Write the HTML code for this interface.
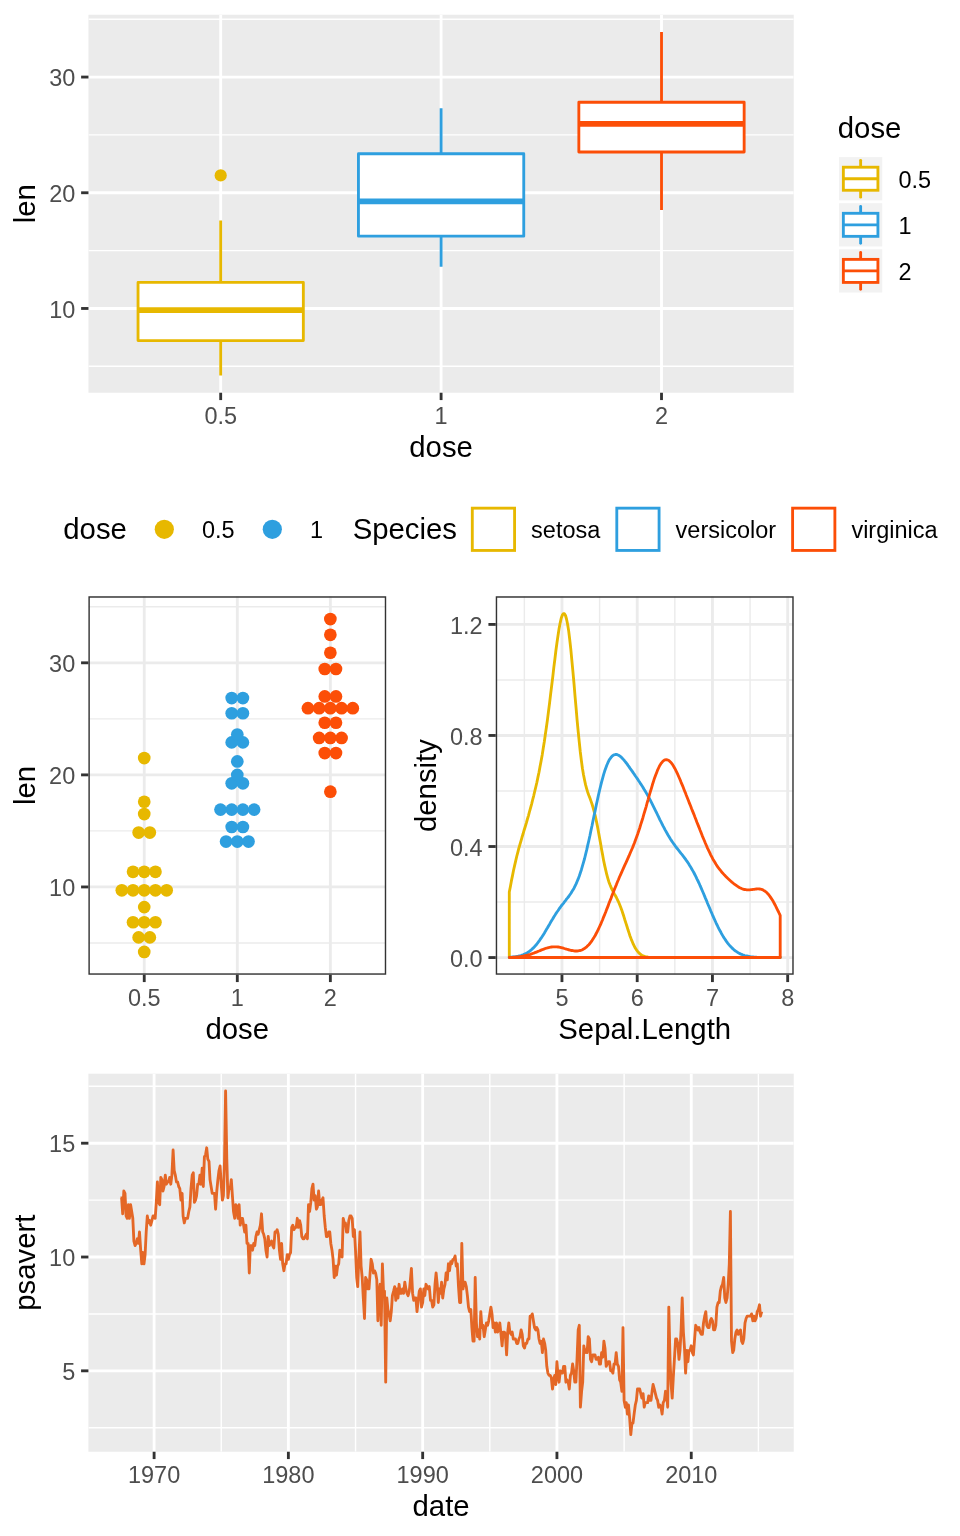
<!DOCTYPE html>
<html><head><meta charset="utf-8"><title>ggplot arrange</title>
<style>html,body{margin:0;padding:0;background:#fff}svg{display:block;will-change:transform}text{font-family:"Liberation Sans",sans-serif}</style>
</head><body>
<svg width="960" height="1536" viewBox="0 0 960 1536">
<rect width="960" height="1536" fill="#fff"/>
<clipPath id="c1"><rect x="88.45" y="14.75" width="705.30" height="378.00"/></clipPath>
<rect x="88.45" y="14.75" width="705.30" height="378.00" fill="#EBEBEB"/>
<g clip-path="url(#c1)">
<line x1="88.45" x2="793.75" y1="366.31" y2="366.31" stroke="#fff" stroke-width="1.42"/>
<line x1="88.45" x2="793.75" y1="250.61" y2="250.61" stroke="#fff" stroke-width="1.42"/>
<line x1="88.45" x2="793.75" y1="134.91" y2="134.91" stroke="#fff" stroke-width="1.42"/>
<line x1="88.45" x2="793.75" y1="19.20" y2="19.20" stroke="#fff" stroke-width="1.42"/>
<line x1="88.45" x2="793.75" y1="308.46" y2="308.46" stroke="#fff" stroke-width="2.845"/>
<line x1="88.45" x2="793.75" y1="192.76" y2="192.76" stroke="#fff" stroke-width="2.845"/>
<line x1="88.45" x2="793.75" y1="77.06" y2="77.06" stroke="#fff" stroke-width="2.845"/>
<line y1="14.75" y2="392.75" x1="220.69" x2="220.69" stroke="#fff" stroke-width="2.845"/>
<line y1="14.75" y2="392.75" x1="441.10" x2="441.10" stroke="#fff" stroke-width="2.845"/>
<line y1="14.75" y2="392.75" x1="661.51" x2="661.51" stroke="#fff" stroke-width="2.845"/>
</g>
<g clip-path="url(#c1)">
<circle cx="220.69" cy="175.40" r="6.1" fill="#E7B800"/>
<line x1="220.69" x2="220.69" y1="220.53" y2="282.43" stroke="#E7B800" stroke-width="2.845"/>
<line x1="220.69" x2="220.69" y1="340.57" y2="375.57" stroke="#E7B800" stroke-width="2.845"/>
<rect x="138.04" y="282.43" width="165.30" height="58.14" fill="#fff" stroke="#E7B800" stroke-width="2.845" stroke-linejoin="round"/>
<line x1="138.04" x2="303.35" y1="310.20" y2="310.20" stroke="#E7B800" stroke-width="5.69"/>
<line x1="441.10" x2="441.10" y1="108.30" y2="153.71" stroke="#2E9FDF" stroke-width="2.845"/>
<line x1="441.10" x2="441.10" y1="236.15" y2="266.81" stroke="#2E9FDF" stroke-width="2.845"/>
<rect x="358.45" y="153.71" width="165.30" height="82.44" fill="#fff" stroke="#2E9FDF" stroke-width="2.845" stroke-linejoin="round"/>
<line x1="358.45" x2="523.75" y1="201.44" y2="201.44" stroke="#2E9FDF" stroke-width="5.69"/>
<line x1="661.51" x2="661.51" y1="31.93" y2="102.22" stroke="#FC4E07" stroke-width="2.845"/>
<line x1="661.51" x2="661.51" y1="151.97" y2="210.11" stroke="#FC4E07" stroke-width="2.845"/>
<rect x="578.85" y="102.22" width="165.30" height="49.75" fill="#fff" stroke="#FC4E07" stroke-width="2.845" stroke-linejoin="round"/>
<line x1="578.85" x2="744.16" y1="123.92" y2="123.92" stroke="#FC4E07" stroke-width="5.69"/>
</g>
<line x1="220.69" x2="220.69" y1="392.75" y2="400.08" stroke="#333333" stroke-width="2.845"/>
<text x="220.69" y="423.65" font-size="23.47" fill="#4D4D4D" text-anchor="middle">0.5</text>
<line x1="441.10" x2="441.10" y1="392.75" y2="400.08" stroke="#333333" stroke-width="2.845"/>
<text x="441.10" y="423.65" font-size="23.47" fill="#4D4D4D" text-anchor="middle">1</text>
<line x1="661.51" x2="661.51" y1="392.75" y2="400.08" stroke="#333333" stroke-width="2.845"/>
<text x="661.51" y="423.65" font-size="23.47" fill="#4D4D4D" text-anchor="middle">2</text>
<line x1="81.12" x2="88.45" y1="308.46" y2="308.46" stroke="#333333" stroke-width="2.845"/>
<text x="75.25" y="317.56" font-size="23.47" fill="#4D4D4D" text-anchor="end">10</text>
<line x1="81.12" x2="88.45" y1="192.76" y2="192.76" stroke="#333333" stroke-width="2.845"/>
<text x="75.25" y="201.86" font-size="23.47" fill="#4D4D4D" text-anchor="end">20</text>
<line x1="81.12" x2="88.45" y1="77.06" y2="77.06" stroke="#333333" stroke-width="2.845"/>
<text x="75.25" y="86.16" font-size="23.47" fill="#4D4D4D" text-anchor="end">30</text>
<text x="441.10" y="456.60" font-size="29.33" fill="#000" text-anchor="middle">dose</text>
<text x="35.40" y="203.75" font-size="29.33" fill="#000" text-anchor="middle" transform="rotate(-90 35.40 203.75)">len</text>
<text x="837.80" y="137.60" font-size="29.33" fill="#000" text-anchor="start">dose</text>
<rect x="839.02" y="157.12" width="43.24" height="43.24" fill="#F2F2F2"/>
<line x1="860.64" x2="860.64" y1="160.31" y2="167.22" stroke="#E7B800" stroke-width="2.845" stroke-linecap="round"/>
<line x1="860.64" x2="860.64" y1="190.26" y2="197.17" stroke="#E7B800" stroke-width="2.845" stroke-linecap="round"/>
<rect x="843.36" y="167.22" width="34.56" height="23.04" fill="#fff" stroke="#E7B800" stroke-width="2.845"/>
<line x1="843.36" x2="877.92" y1="178.74" y2="178.74" stroke="#E7B800" stroke-width="2.845"/>
<text x="898.40" y="187.74" font-size="23.47" fill="#000" text-anchor="start">0.5</text>
<rect x="839.02" y="203.20" width="43.24" height="43.24" fill="#F2F2F2"/>
<line x1="860.64" x2="860.64" y1="206.39" y2="213.30" stroke="#2E9FDF" stroke-width="2.845" stroke-linecap="round"/>
<line x1="860.64" x2="860.64" y1="236.34" y2="243.25" stroke="#2E9FDF" stroke-width="2.845" stroke-linecap="round"/>
<rect x="843.36" y="213.30" width="34.56" height="23.04" fill="#fff" stroke="#2E9FDF" stroke-width="2.845"/>
<line x1="843.36" x2="877.92" y1="224.82" y2="224.82" stroke="#2E9FDF" stroke-width="2.845"/>
<text x="898.40" y="233.82" font-size="23.47" fill="#000" text-anchor="start">1</text>
<rect x="839.02" y="249.28" width="43.24" height="43.24" fill="#F2F2F2"/>
<line x1="860.64" x2="860.64" y1="252.47" y2="259.38" stroke="#FC4E07" stroke-width="2.845" stroke-linecap="round"/>
<line x1="860.64" x2="860.64" y1="282.42" y2="289.33" stroke="#FC4E07" stroke-width="2.845" stroke-linecap="round"/>
<rect x="843.36" y="259.38" width="34.56" height="23.04" fill="#fff" stroke="#FC4E07" stroke-width="2.845"/>
<line x1="843.36" x2="877.92" y1="270.90" y2="270.90" stroke="#FC4E07" stroke-width="2.845"/>
<text x="898.40" y="279.90" font-size="23.47" fill="#000" text-anchor="start">2</text>
<text x="63.30" y="539.30" font-size="29.33" fill="#000" text-anchor="start">dose</text>
<circle cx="164.3" cy="529.3" r="9.6" fill="#E7B800"/>
<text x="202.00" y="537.70" font-size="23.47" fill="#000" text-anchor="start">0.5</text>
<circle cx="272.3" cy="529.3" r="9.6" fill="#2E9FDF"/>
<text x="310.00" y="537.70" font-size="23.47" fill="#000" text-anchor="start">1</text>
<text x="352.70" y="539.30" font-size="29.33" fill="#000" text-anchor="start">Species</text>
<rect x="472.30" y="508.16" width="42.28" height="42.28" fill="#fff" stroke="#E7B800" stroke-width="2.845"/>
<text x="531.10" y="537.70" font-size="23.47" fill="#000" text-anchor="start">setosa</text>
<rect x="616.80" y="508.16" width="42.28" height="42.28" fill="#fff" stroke="#2E9FDF" stroke-width="2.845"/>
<text x="675.60" y="537.70" font-size="23.47" fill="#000" text-anchor="start">versicolor</text>
<rect x="792.60" y="508.16" width="42.28" height="42.28" fill="#fff" stroke="#FC4E07" stroke-width="2.845"/>
<text x="851.40" y="537.70" font-size="23.47" fill="#000" text-anchor="start">virginica</text>
<rect x="88.40" y="596.30" width="297.80" height="378.45" fill="#fff"/>
<clipPath id="c2"><rect x="88.40" y="596.30" width="297.80" height="378.45"/></clipPath>
<g clip-path="url(#c2)">
<line x1="88.40" x2="386.20" y1="942.98" y2="942.98" stroke="#EBEBEB" stroke-width="1.42"/>
<line x1="88.40" x2="386.20" y1="830.91" y2="830.91" stroke="#EBEBEB" stroke-width="1.42"/>
<line x1="88.40" x2="386.20" y1="718.85" y2="718.85" stroke="#EBEBEB" stroke-width="1.42"/>
<line x1="88.40" x2="386.20" y1="606.78" y2="606.78" stroke="#EBEBEB" stroke-width="1.42"/>
<line x1="88.40" x2="386.20" y1="886.95" y2="886.95" stroke="#EBEBEB" stroke-width="2.845"/>
<line x1="88.40" x2="386.20" y1="774.88" y2="774.88" stroke="#EBEBEB" stroke-width="2.845"/>
<line x1="88.40" x2="386.20" y1="662.81" y2="662.81" stroke="#EBEBEB" stroke-width="2.845"/>
<line y1="596.30" y2="974.75" x1="144.24" x2="144.24" stroke="#EBEBEB" stroke-width="2.845"/>
<line y1="596.30" y2="974.75" x1="237.30" x2="237.30" stroke="#EBEBEB" stroke-width="2.845"/>
<line y1="596.30" y2="974.75" x1="330.36" x2="330.36" stroke="#EBEBEB" stroke-width="2.845"/>
</g>
<g clip-path="url(#c2)">
<circle cx="144.24" cy="951.94" r="6.35" fill="#E7B800"/>
<circle cx="138.63" cy="937.38" r="6.35" fill="#E7B800"/>
<circle cx="149.84" cy="937.38" r="6.35" fill="#E7B800"/>
<circle cx="133.03" cy="922.25" r="6.35" fill="#E7B800"/>
<circle cx="144.24" cy="922.25" r="6.35" fill="#E7B800"/>
<circle cx="155.44" cy="922.25" r="6.35" fill="#E7B800"/>
<circle cx="144.24" cy="907.12" r="6.35" fill="#E7B800"/>
<circle cx="121.82" cy="890.31" r="6.35" fill="#E7B800"/>
<circle cx="133.03" cy="890.31" r="6.35" fill="#E7B800"/>
<circle cx="144.24" cy="890.31" r="6.35" fill="#E7B800"/>
<circle cx="155.44" cy="890.31" r="6.35" fill="#E7B800"/>
<circle cx="166.65" cy="890.31" r="6.35" fill="#E7B800"/>
<circle cx="133.03" cy="871.82" r="6.35" fill="#E7B800"/>
<circle cx="144.24" cy="871.82" r="6.35" fill="#E7B800"/>
<circle cx="155.44" cy="871.82" r="6.35" fill="#E7B800"/>
<circle cx="138.63" cy="832.59" r="6.35" fill="#E7B800"/>
<circle cx="149.84" cy="832.59" r="6.35" fill="#E7B800"/>
<circle cx="144.24" cy="814.10" r="6.35" fill="#E7B800"/>
<circle cx="144.24" cy="801.77" r="6.35" fill="#E7B800"/>
<circle cx="144.24" cy="758.07" r="6.35" fill="#E7B800"/>
<circle cx="226.09" cy="841.56" r="6.35" fill="#2E9FDF"/>
<circle cx="237.30" cy="841.56" r="6.35" fill="#2E9FDF"/>
<circle cx="248.51" cy="841.56" r="6.35" fill="#2E9FDF"/>
<circle cx="231.70" cy="826.99" r="6.35" fill="#2E9FDF"/>
<circle cx="242.90" cy="826.99" r="6.35" fill="#2E9FDF"/>
<circle cx="220.49" cy="809.62" r="6.35" fill="#2E9FDF"/>
<circle cx="231.70" cy="809.62" r="6.35" fill="#2E9FDF"/>
<circle cx="242.90" cy="809.62" r="6.35" fill="#2E9FDF"/>
<circle cx="254.11" cy="809.62" r="6.35" fill="#2E9FDF"/>
<circle cx="231.70" cy="783.28" r="6.35" fill="#2E9FDF"/>
<circle cx="242.90" cy="783.28" r="6.35" fill="#2E9FDF"/>
<circle cx="237.30" cy="774.88" r="6.35" fill="#2E9FDF"/>
<circle cx="237.30" cy="761.43" r="6.35" fill="#2E9FDF"/>
<circle cx="231.70" cy="742.38" r="6.35" fill="#2E9FDF"/>
<circle cx="242.90" cy="742.38" r="6.35" fill="#2E9FDF"/>
<circle cx="237.30" cy="734.53" r="6.35" fill="#2E9FDF"/>
<circle cx="231.70" cy="713.24" r="6.35" fill="#2E9FDF"/>
<circle cx="242.90" cy="713.24" r="6.35" fill="#2E9FDF"/>
<circle cx="231.70" cy="698.11" r="6.35" fill="#2E9FDF"/>
<circle cx="242.90" cy="698.11" r="6.35" fill="#2E9FDF"/>
<circle cx="330.36" cy="791.69" r="6.35" fill="#FC4E07"/>
<circle cx="324.76" cy="753.03" r="6.35" fill="#FC4E07"/>
<circle cx="335.97" cy="753.03" r="6.35" fill="#FC4E07"/>
<circle cx="319.16" cy="737.90" r="6.35" fill="#FC4E07"/>
<circle cx="330.36" cy="737.90" r="6.35" fill="#FC4E07"/>
<circle cx="341.57" cy="737.90" r="6.35" fill="#FC4E07"/>
<circle cx="324.76" cy="722.77" r="6.35" fill="#FC4E07"/>
<circle cx="335.97" cy="722.77" r="6.35" fill="#FC4E07"/>
<circle cx="307.95" cy="708.20" r="6.35" fill="#FC4E07"/>
<circle cx="319.16" cy="708.20" r="6.35" fill="#FC4E07"/>
<circle cx="330.36" cy="708.20" r="6.35" fill="#FC4E07"/>
<circle cx="341.57" cy="708.20" r="6.35" fill="#FC4E07"/>
<circle cx="352.78" cy="708.20" r="6.35" fill="#FC4E07"/>
<circle cx="324.76" cy="696.43" r="6.35" fill="#FC4E07"/>
<circle cx="335.97" cy="696.43" r="6.35" fill="#FC4E07"/>
<circle cx="324.76" cy="668.98" r="6.35" fill="#FC4E07"/>
<circle cx="335.97" cy="668.98" r="6.35" fill="#FC4E07"/>
<circle cx="330.36" cy="652.73" r="6.35" fill="#FC4E07"/>
<circle cx="330.36" cy="634.79" r="6.35" fill="#FC4E07"/>
<circle cx="330.36" cy="619.11" r="6.35" fill="#FC4E07"/>
</g>
<rect clip-path="url(#c2)" x="88.40" y="596.30" width="297.80" height="378.45" fill="none" stroke="#333333" stroke-width="2.845"/>
<line x1="144.24" x2="144.24" y1="974.75" y2="982.08" stroke="#333333" stroke-width="2.845"/>
<text x="144.24" y="1005.65" font-size="23.47" fill="#4D4D4D" text-anchor="middle">0.5</text>
<line x1="237.30" x2="237.30" y1="974.75" y2="982.08" stroke="#333333" stroke-width="2.845"/>
<text x="237.30" y="1005.65" font-size="23.47" fill="#4D4D4D" text-anchor="middle">1</text>
<line x1="330.36" x2="330.36" y1="974.75" y2="982.08" stroke="#333333" stroke-width="2.845"/>
<text x="330.36" y="1005.65" font-size="23.47" fill="#4D4D4D" text-anchor="middle">2</text>
<line x1="81.07" x2="88.40" y1="886.95" y2="886.95" stroke="#333333" stroke-width="2.845"/>
<text x="75.20" y="896.05" font-size="23.47" fill="#4D4D4D" text-anchor="end">10</text>
<line x1="81.07" x2="88.40" y1="774.88" y2="774.88" stroke="#333333" stroke-width="2.845"/>
<text x="75.20" y="783.98" font-size="23.47" fill="#4D4D4D" text-anchor="end">20</text>
<line x1="81.07" x2="88.40" y1="662.81" y2="662.81" stroke="#333333" stroke-width="2.845"/>
<text x="75.20" y="671.91" font-size="23.47" fill="#4D4D4D" text-anchor="end">30</text>
<text x="237.30" y="1038.60" font-size="29.33" fill="#000" text-anchor="middle">dose</text>
<text x="35.40" y="785.52" font-size="29.33" fill="#000" text-anchor="middle" transform="rotate(-90 35.40 785.52)">len</text>
<rect x="495.75" y="596.30" width="297.95" height="378.45" fill="#fff"/>
<clipPath id="c3"><rect x="495.75" y="596.30" width="297.95" height="378.45"/></clipPath>
<g clip-path="url(#c3)">
<line x1="495.75" x2="793.70" y1="902.03" y2="902.03" stroke="#EBEBEB" stroke-width="1.42"/>
<line x1="495.75" x2="793.70" y1="790.98" y2="790.98" stroke="#EBEBEB" stroke-width="1.42"/>
<line x1="495.75" x2="793.70" y1="679.94" y2="679.94" stroke="#EBEBEB" stroke-width="1.42"/>
<line y1="596.30" y2="974.75" x1="524.34" x2="524.34" stroke="#EBEBEB" stroke-width="1.42"/>
<line y1="596.30" y2="974.75" x1="599.58" x2="599.58" stroke="#EBEBEB" stroke-width="1.42"/>
<line y1="596.30" y2="974.75" x1="674.82" x2="674.82" stroke="#EBEBEB" stroke-width="1.42"/>
<line y1="596.30" y2="974.75" x1="750.06" x2="750.06" stroke="#EBEBEB" stroke-width="1.42"/>
<line x1="495.75" x2="793.70" y1="957.55" y2="957.55" stroke="#EBEBEB" stroke-width="2.845"/>
<line x1="495.75" x2="793.70" y1="846.51" y2="846.51" stroke="#EBEBEB" stroke-width="2.845"/>
<line x1="495.75" x2="793.70" y1="735.46" y2="735.46" stroke="#EBEBEB" stroke-width="2.845"/>
<line x1="495.75" x2="793.70" y1="624.42" y2="624.42" stroke="#EBEBEB" stroke-width="2.845"/>
<line y1="596.30" y2="974.75" x1="561.96" x2="561.96" stroke="#EBEBEB" stroke-width="2.845"/>
<line y1="596.30" y2="974.75" x1="637.20" x2="637.20" stroke="#EBEBEB" stroke-width="2.845"/>
<line y1="596.30" y2="974.75" x1="712.44" x2="712.44" stroke="#EBEBEB" stroke-width="2.845"/>
<line y1="596.30" y2="974.75" x1="787.68" x2="787.68" stroke="#EBEBEB" stroke-width="2.845"/>
</g>
<g clip-path="url(#c3)">
<path d="M509.3 957.5 L509.3 892.0 L510.4 886.4 L511.4 880.9 L512.5 875.6 L513.5 870.5 L514.6 865.6 L515.7 860.9 L516.7 856.5 L517.8 852.3 L518.8 848.4 L519.9 844.6 L521.0 840.9 L522.0 837.3 L523.1 833.8 L524.1 830.2 L525.2 826.7 L526.3 823.1 L527.3 819.5 L528.4 815.8 L529.4 812.0 L530.5 808.1 L531.6 804.1 L532.6 800.0 L533.7 795.8 L534.7 791.5 L535.8 787.0 L536.9 782.3 L537.9 777.4 L539.0 772.2 L540.0 766.8 L541.1 761.0 L542.2 754.9 L543.2 748.5 L544.3 741.8 L545.3 734.7 L546.4 727.2 L547.5 719.4 L548.5 711.3 L549.6 702.9 L550.6 694.3 L551.7 685.5 L552.8 676.6 L553.8 667.7 L554.9 659.0 L555.9 650.5 L557.0 642.5 L558.1 635.0 L559.1 628.4 L560.2 622.8 L561.2 618.3 L562.3 615.2 L563.4 613.7 L564.4 613.7 L565.5 615.5 L566.5 619.0 L567.6 624.2 L568.7 631.1 L569.7 639.4 L570.8 649.1 L571.8 659.8 L572.9 671.4 L574.0 683.5 L575.0 695.9 L576.1 708.2 L577.1 720.2 L578.2 731.6 L579.3 742.3 L580.3 752.0 L581.4 760.7 L582.4 768.3 L583.5 774.8 L584.6 780.3 L585.6 784.9 L586.7 788.8 L587.7 792.2 L588.8 795.2 L589.9 798.0 L590.9 800.9 L592.0 804.0 L593.0 807.4 L594.1 811.3 L595.2 815.6 L596.2 820.3 L597.3 825.6 L598.3 831.1 L599.4 837.0 L600.5 843.0 L601.5 848.9 L602.6 854.8 L603.6 860.4 L604.7 865.6 L605.8 870.4 L606.8 874.7 L607.9 878.6 L608.9 881.9 L610.0 884.8 L611.1 887.4 L612.1 889.6 L613.2 891.7 L614.2 893.6 L615.3 895.5 L616.4 897.5 L617.4 899.6 L618.5 901.8 L619.5 904.3 L620.6 907.0 L621.7 909.9 L622.7 913.0 L623.8 916.3 L624.8 919.7 L625.9 923.1 L627.0 926.5 L628.0 929.8 L629.1 933.1 L630.1 936.2 L631.2 939.1 L632.3 941.7 L633.3 944.2 L634.4 946.3 L635.4 948.3 L636.5 949.9 L637.6 951.4 L638.6 952.6 L639.7 953.6 L640.7 954.5 L641.8 955.2 L642.9 955.7 L643.9 956.2 L645.0 956.5 L646.1 956.8 L647.1 957.0 L648.2 957.2 L649.2 957.3 L650.3 957.4 L651.4 957.4 L652.4 957.5 L653.5 957.5 L654.5 957.5 L655.6 957.5 L656.7 957.5 L657.7 957.5 L658.8 957.5 L659.8 957.5 L660.9 957.5 L662.0 957.5 L663.0 957.5 L664.1 957.5 L665.1 957.5 L666.2 957.5 L667.3 957.5 L668.3 957.5 L669.4 957.5 L670.4 957.5 L671.5 957.5 L672.6 957.5 L673.6 957.5 L674.7 957.5 L675.7 957.5 L676.8 957.5 L677.9 957.5 L678.9 957.5 L680.0 957.5 L681.0 957.5 L682.1 957.5 L683.2 957.5 L684.2 957.5 L685.3 957.5 L686.3 957.5 L687.4 957.5 L688.5 957.5 L689.5 957.5 L690.6 957.5 L691.6 957.5 L692.7 957.5 L693.8 957.5 L694.8 957.5 L695.9 957.5 L696.9 957.5 L698.0 957.5 L699.1 957.5 L700.1 957.5 L701.2 957.5 L702.2 957.5 L703.3 957.5 L704.4 957.5 L705.4 957.5 L706.5 957.5 L707.5 957.5 L708.6 957.5 L709.7 957.5 L710.7 957.5 L711.8 957.5 L712.8 957.5 L713.9 957.5 L715.0 957.5 L716.0 957.5 L717.1 957.5 L718.1 957.5 L719.2 957.5 L720.3 957.5 L721.3 957.5 L722.4 957.5 L723.4 957.5 L724.5 957.5 L725.6 957.5 L726.6 957.5 L727.7 957.5 L728.7 957.5 L729.8 957.5 L730.9 957.5 L731.9 957.5 L733.0 957.5 L734.0 957.5 L735.1 957.5 L736.2 957.5 L737.2 957.5 L738.3 957.5 L739.3 957.5 L740.4 957.5 L741.5 957.5 L742.5 957.5 L743.6 957.5 L744.6 957.5 L745.7 957.5 L746.8 957.5 L747.8 957.5 L748.9 957.5 L749.9 957.5 L751.0 957.5 L752.1 957.5 L753.1 957.5 L754.2 957.5 L755.2 957.5 L756.3 957.5 L757.4 957.5 L758.4 957.5 L759.5 957.5 L760.5 957.5 L761.6 957.5 L762.7 957.5 L763.7 957.5 L764.8 957.5 L765.8 957.5 L766.9 957.5 L768.0 957.5 L769.0 957.5 L770.1 957.5 L771.1 957.5 L772.2 957.5 L773.3 957.5 L774.3 957.5 L775.4 957.5 L776.4 957.5 L777.5 957.5 L778.6 957.5 L779.6 957.5 L780.2 957.5 L780.2 957.5 Z" fill="none" stroke="#E7B800" stroke-width="2.845" stroke-linejoin="round"/>
<path d="M509.3 957.5 L509.3 957.3 L510.4 957.2 L511.4 957.1 L512.5 957.0 L513.5 956.9 L514.6 956.8 L515.7 956.6 L516.7 956.5 L517.8 956.3 L518.8 956.0 L519.9 955.8 L521.0 955.5 L522.0 955.1 L523.1 954.8 L524.1 954.3 L525.2 953.8 L526.3 953.3 L527.3 952.7 L528.4 952.0 L529.4 951.3 L530.5 950.5 L531.6 949.6 L532.6 948.6 L533.7 947.6 L534.7 946.5 L535.8 945.3 L536.9 944.0 L537.9 942.6 L539.0 941.2 L540.0 939.7 L541.1 938.2 L542.2 936.5 L543.2 934.9 L544.3 933.2 L545.3 931.4 L546.4 929.6 L547.5 927.8 L548.5 926.0 L549.6 924.2 L550.6 922.3 L551.7 920.5 L552.8 918.8 L553.8 917.0 L554.9 915.3 L555.9 913.6 L557.0 912.0 L558.1 910.5 L559.1 908.9 L560.2 907.5 L561.2 906.0 L562.3 904.6 L563.4 903.3 L564.4 901.9 L565.5 900.6 L566.5 899.2 L567.6 897.9 L568.7 896.5 L569.7 895.0 L570.8 893.5 L571.8 891.8 L572.9 890.1 L574.0 888.2 L575.0 886.1 L576.1 883.9 L577.1 881.5 L578.2 878.9 L579.3 876.0 L580.3 873.0 L581.4 869.7 L582.4 866.2 L583.5 862.4 L584.6 858.5 L585.6 854.3 L586.7 849.9 L587.7 845.4 L588.8 840.7 L589.9 835.8 L590.9 830.8 L592.0 825.8 L593.0 820.7 L594.1 815.6 L595.2 810.5 L596.2 805.4 L597.3 800.5 L598.3 795.7 L599.4 791.0 L600.5 786.5 L601.5 782.3 L602.6 778.3 L603.6 774.6 L604.7 771.1 L605.8 768.0 L606.8 765.2 L607.9 762.7 L608.9 760.6 L610.0 758.8 L611.1 757.3 L612.1 756.2 L613.2 755.3 L614.2 754.8 L615.3 754.5 L616.4 754.5 L617.4 754.7 L618.5 755.2 L619.5 755.8 L620.6 756.6 L621.7 757.6 L622.7 758.7 L623.8 759.9 L624.8 761.2 L625.9 762.5 L627.0 763.9 L628.0 765.4 L629.1 766.9 L630.1 768.4 L631.2 769.9 L632.3 771.4 L633.3 772.9 L634.4 774.4 L635.4 776.0 L636.5 777.5 L637.6 779.1 L638.6 780.7 L639.7 782.3 L640.7 783.9 L641.8 785.5 L642.9 787.2 L643.9 789.0 L645.0 790.7 L646.1 792.6 L647.1 794.4 L648.2 796.3 L649.2 798.3 L650.3 800.3 L651.4 802.4 L652.4 804.4 L653.5 806.6 L654.5 808.7 L655.6 810.9 L656.7 813.0 L657.7 815.2 L658.8 817.4 L659.8 819.6 L660.9 821.7 L662.0 823.8 L663.0 825.9 L664.1 827.9 L665.1 829.9 L666.2 831.8 L667.3 833.7 L668.3 835.5 L669.4 837.3 L670.4 839.0 L671.5 840.6 L672.6 842.2 L673.6 843.7 L674.7 845.2 L675.7 846.6 L676.8 848.0 L677.9 849.4 L678.9 850.7 L680.0 852.1 L681.0 853.4 L682.1 854.7 L683.2 856.1 L684.2 857.5 L685.3 858.9 L686.3 860.4 L687.4 861.9 L688.5 863.5 L689.5 865.2 L690.6 866.9 L691.6 868.7 L692.7 870.6 L693.8 872.5 L694.8 874.5 L695.9 876.6 L696.9 878.8 L698.0 881.0 L699.1 883.3 L700.1 885.7 L701.2 888.1 L702.2 890.5 L703.3 893.0 L704.4 895.6 L705.4 898.1 L706.5 900.6 L707.5 903.2 L708.6 905.7 L709.7 908.3 L710.7 910.8 L711.8 913.3 L712.8 915.7 L713.9 918.1 L715.0 920.5 L716.0 922.8 L717.1 925.0 L718.1 927.2 L719.2 929.3 L720.3 931.3 L721.3 933.2 L722.4 935.1 L723.4 936.9 L724.5 938.5 L725.6 940.1 L726.6 941.6 L727.7 943.1 L728.7 944.4 L729.8 945.7 L730.9 946.8 L731.9 947.9 L733.0 948.9 L734.0 949.8 L735.1 950.7 L736.2 951.4 L737.2 952.1 L738.3 952.8 L739.3 953.4 L740.4 953.9 L741.5 954.3 L742.5 954.8 L743.6 955.1 L744.6 955.5 L745.7 955.8 L746.8 956.0 L747.8 956.2 L748.9 956.4 L749.9 956.6 L751.0 956.8 L752.1 956.9 L753.1 957.0 L754.2 957.1 L755.2 957.2 L756.3 957.2 L757.4 957.3 L758.4 957.3 L759.5 957.4 L760.5 957.4 L761.6 957.4 L762.7 957.5 L763.7 957.5 L764.8 957.5 L765.8 957.5 L766.9 957.5 L768.0 957.5 L769.0 957.5 L770.1 957.5 L771.1 957.5 L772.2 957.5 L773.3 957.5 L774.3 957.5 L775.4 957.5 L776.4 957.5 L777.5 957.5 L778.6 957.5 L779.6 957.5 L780.2 957.5 L780.2 957.5 Z" fill="none" stroke="#2E9FDF" stroke-width="2.845" stroke-linejoin="round"/>
<path d="M509.3 957.5 L509.3 957.4 L510.4 957.4 L511.4 957.3 L512.5 957.3 L513.5 957.2 L514.6 957.1 L515.7 957.1 L516.7 957.0 L517.8 956.9 L518.8 956.8 L519.9 956.6 L521.0 956.5 L522.0 956.3 L523.1 956.1 L524.1 955.9 L525.2 955.7 L526.3 955.5 L527.3 955.2 L528.4 954.9 L529.4 954.6 L530.5 954.3 L531.6 953.9 L532.6 953.5 L533.7 953.1 L534.7 952.7 L535.8 952.3 L536.9 951.9 L537.9 951.4 L539.0 951.0 L540.0 950.6 L541.1 950.1 L542.2 949.7 L543.2 949.3 L544.3 948.9 L545.3 948.5 L546.4 948.2 L547.5 947.9 L548.5 947.6 L549.6 947.4 L550.6 947.2 L551.7 947.0 L552.8 946.9 L553.8 946.8 L554.9 946.8 L555.9 946.9 L557.0 946.9 L558.1 947.0 L559.1 947.2 L560.2 947.4 L561.2 947.6 L562.3 947.9 L563.4 948.2 L564.4 948.5 L565.5 948.8 L566.5 949.1 L567.6 949.4 L568.7 949.8 L569.7 950.0 L570.8 950.3 L571.8 950.5 L572.9 950.7 L574.0 950.9 L575.0 951.0 L576.1 951.0 L577.1 951.0 L578.2 950.9 L579.3 950.7 L580.3 950.5 L581.4 950.1 L582.4 949.7 L583.5 949.1 L584.6 948.5 L585.6 947.7 L586.7 946.8 L587.7 945.8 L588.8 944.7 L589.9 943.5 L590.9 942.1 L592.0 940.6 L593.0 939.0 L594.1 937.3 L595.2 935.5 L596.2 933.5 L597.3 931.5 L598.3 929.3 L599.4 927.0 L600.5 924.7 L601.5 922.2 L602.6 919.7 L603.6 917.1 L604.7 914.5 L605.8 911.8 L606.8 909.1 L607.9 906.4 L608.9 903.6 L610.0 900.8 L611.1 898.1 L612.1 895.3 L613.2 892.6 L614.2 889.9 L615.3 887.2 L616.4 884.6 L617.4 882.0 L618.5 879.5 L619.5 877.0 L620.6 874.6 L621.7 872.2 L622.7 869.8 L623.8 867.4 L624.8 865.1 L625.9 862.8 L627.0 860.4 L628.0 858.1 L629.1 855.7 L630.1 853.3 L631.2 850.8 L632.3 848.3 L633.3 845.7 L634.4 843.0 L635.4 840.2 L636.5 837.3 L637.6 834.3 L638.6 831.2 L639.7 828.0 L640.7 824.7 L641.8 821.2 L642.9 817.7 L643.9 814.1 L645.0 810.5 L646.1 806.8 L647.1 803.0 L648.2 799.3 L649.2 795.6 L650.3 791.9 L651.4 788.3 L652.4 784.8 L653.5 781.4 L654.5 778.2 L655.6 775.2 L656.7 772.4 L657.7 769.8 L658.8 767.5 L659.8 765.4 L660.9 763.7 L662.0 762.3 L663.0 761.1 L664.1 760.3 L665.1 759.8 L666.2 759.6 L667.3 759.8 L668.3 760.2 L669.4 760.9 L670.4 761.9 L671.5 763.2 L672.6 764.6 L673.6 766.3 L674.7 768.2 L675.7 770.2 L676.8 772.4 L677.9 774.7 L678.9 777.0 L680.0 779.5 L681.0 782.1 L682.1 784.6 L683.2 787.3 L684.2 789.9 L685.3 792.6 L686.3 795.3 L687.4 798.0 L688.5 800.7 L689.5 803.4 L690.6 806.0 L691.6 808.7 L692.7 811.4 L693.8 814.1 L694.8 816.8 L695.9 819.5 L696.9 822.2 L698.0 824.9 L699.1 827.6 L700.1 830.3 L701.2 832.9 L702.2 835.6 L703.3 838.2 L704.4 840.7 L705.4 843.2 L706.5 845.7 L707.5 848.1 L708.6 850.4 L709.7 852.6 L710.7 854.8 L711.8 856.9 L712.8 858.9 L713.9 860.7 L715.0 862.5 L716.0 864.2 L717.1 865.9 L718.1 867.4 L719.2 868.8 L720.3 870.2 L721.3 871.5 L722.4 872.8 L723.4 873.9 L724.5 875.1 L725.6 876.2 L726.6 877.2 L727.7 878.3 L728.7 879.2 L729.8 880.2 L730.9 881.2 L731.9 882.1 L733.0 883.0 L734.0 883.8 L735.1 884.6 L736.2 885.4 L737.2 886.1 L738.3 886.8 L739.3 887.5 L740.4 888.0 L741.5 888.5 L742.5 888.9 L743.6 889.3 L744.6 889.5 L745.7 889.7 L746.8 889.9 L747.8 889.9 L748.9 889.9 L749.9 889.8 L751.0 889.7 L752.1 889.6 L753.1 889.4 L754.2 889.3 L755.2 889.1 L756.3 889.0 L757.4 888.9 L758.4 888.9 L759.5 889.0 L760.5 889.2 L761.6 889.4 L762.7 889.8 L763.7 890.4 L764.8 891.0 L765.8 891.8 L766.9 892.8 L768.0 893.9 L769.0 895.2 L770.1 896.6 L771.1 898.1 L772.2 899.8 L773.3 901.6 L774.3 903.5 L775.4 905.5 L776.4 907.6 L777.5 909.8 L778.6 912.0 L779.6 914.3 L780.2 915.4 L780.2 957.5 Z" fill="none" stroke="#FC4E07" stroke-width="2.845" stroke-linejoin="round"/>
</g>
<rect clip-path="url(#c3)" x="495.75" y="596.30" width="297.95" height="378.45" fill="none" stroke="#333333" stroke-width="2.845"/>
<line x1="561.96" x2="561.96" y1="974.75" y2="982.08" stroke="#333333" stroke-width="2.845"/>
<text x="561.96" y="1005.65" font-size="23.47" fill="#4D4D4D" text-anchor="middle">5</text>
<line x1="637.20" x2="637.20" y1="974.75" y2="982.08" stroke="#333333" stroke-width="2.845"/>
<text x="637.20" y="1005.65" font-size="23.47" fill="#4D4D4D" text-anchor="middle">6</text>
<line x1="712.44" x2="712.44" y1="974.75" y2="982.08" stroke="#333333" stroke-width="2.845"/>
<text x="712.44" y="1005.65" font-size="23.47" fill="#4D4D4D" text-anchor="middle">7</text>
<line x1="787.68" x2="787.68" y1="974.75" y2="982.08" stroke="#333333" stroke-width="2.845"/>
<text x="787.68" y="1005.65" font-size="23.47" fill="#4D4D4D" text-anchor="middle">8</text>
<line x1="488.42" x2="495.75" y1="957.55" y2="957.55" stroke="#333333" stroke-width="2.845"/>
<text x="482.55" y="966.65" font-size="23.47" fill="#4D4D4D" text-anchor="end">0.0</text>
<line x1="488.42" x2="495.75" y1="846.51" y2="846.51" stroke="#333333" stroke-width="2.845"/>
<text x="482.55" y="855.61" font-size="23.47" fill="#4D4D4D" text-anchor="end">0.4</text>
<line x1="488.42" x2="495.75" y1="735.46" y2="735.46" stroke="#333333" stroke-width="2.845"/>
<text x="482.55" y="744.56" font-size="23.47" fill="#4D4D4D" text-anchor="end">0.8</text>
<line x1="488.42" x2="495.75" y1="624.42" y2="624.42" stroke="#333333" stroke-width="2.845"/>
<text x="482.55" y="633.52" font-size="23.47" fill="#4D4D4D" text-anchor="end">1.2</text>
<text x="644.73" y="1038.60" font-size="29.33" fill="#000" text-anchor="middle">Sepal.Length</text>
<text x="436.20" y="785.52" font-size="29.33" fill="#000" text-anchor="middle" transform="rotate(-90 436.20 785.52)">density</text>
<clipPath id="c4"><rect x="88.40" y="1073.67" width="705.35" height="378.08"/></clipPath>
<rect x="88.40" y="1073.67" width="705.35" height="378.08" fill="#EBEBEB"/>
<g clip-path="url(#c4)">
<line x1="88.40" x2="793.75" y1="1427.74" y2="1427.74" stroke="#fff" stroke-width="1.42"/>
<line x1="88.40" x2="793.75" y1="1313.92" y2="1313.92" stroke="#fff" stroke-width="1.42"/>
<line x1="88.40" x2="793.75" y1="1200.11" y2="1200.11" stroke="#fff" stroke-width="1.42"/>
<line x1="88.40" x2="793.75" y1="1086.30" y2="1086.30" stroke="#fff" stroke-width="1.42"/>
<line y1="1073.67" y2="1451.75" x1="221.24" x2="221.24" stroke="#fff" stroke-width="1.42"/>
<line y1="1073.67" y2="1451.75" x1="355.54" x2="355.54" stroke="#fff" stroke-width="1.42"/>
<line y1="1073.67" y2="1451.75" x1="489.81" x2="489.81" stroke="#fff" stroke-width="1.42"/>
<line y1="1073.67" y2="1451.75" x1="624.11" x2="624.11" stroke="#fff" stroke-width="1.42"/>
<line y1="1073.67" y2="1451.75" x1="758.38" x2="758.38" stroke="#fff" stroke-width="1.42"/>
<line x1="88.40" x2="793.75" y1="1370.83" y2="1370.83" stroke="#fff" stroke-width="2.845"/>
<line x1="88.40" x2="793.75" y1="1257.02" y2="1257.02" stroke="#fff" stroke-width="2.845"/>
<line x1="88.40" x2="793.75" y1="1143.21" y2="1143.21" stroke="#fff" stroke-width="2.845"/>
<line y1="1073.67" y2="1451.75" x1="154.10" x2="154.10" stroke="#fff" stroke-width="2.845"/>
<line y1="1073.67" y2="1451.75" x1="288.37" x2="288.37" stroke="#fff" stroke-width="2.845"/>
<line y1="1073.67" y2="1451.75" x1="422.67" x2="422.67" stroke="#fff" stroke-width="2.845"/>
<line y1="1073.67" y2="1451.75" x1="556.94" x2="556.94" stroke="#fff" stroke-width="2.845"/>
<line y1="1073.67" y2="1451.75" x1="691.25" x2="691.25" stroke="#fff" stroke-width="2.845"/>
</g>
<path clip-path="url(#c4)" d="M120.5 1197.8 L121.6 1197.8 L122.7 1213.8 L123.8 1191.0 L125.0 1193.3 L126.1 1216.0 L127.2 1218.3 L128.4 1204.7 L129.4 1218.3 L130.6 1204.7 L131.7 1211.5 L132.8 1218.3 L133.9 1241.1 L135.1 1245.6 L136.2 1243.4 L137.3 1238.8 L138.4 1243.4 L139.5 1232.0 L140.7 1250.2 L141.8 1263.8 L142.9 1252.5 L144.0 1263.8 L145.1 1254.7 L146.2 1232.0 L147.3 1216.0 L148.5 1222.9 L149.6 1220.6 L150.7 1225.2 L151.9 1220.6 L153.0 1216.0 L154.1 1216.0 L155.2 1218.3 L156.3 1202.4 L157.4 1181.9 L158.5 1202.4 L159.7 1204.7 L160.8 1177.4 L161.9 1179.6 L163.0 1191.0 L164.1 1186.5 L165.3 1175.1 L166.4 1184.2 L167.5 1181.9 L168.7 1181.9 L169.7 1177.4 L170.8 1184.2 L171.9 1175.1 L173.1 1150.0 L174.2 1170.5 L175.3 1175.1 L176.5 1181.9 L177.6 1181.9 L178.7 1186.5 L179.8 1188.7 L180.9 1200.1 L182.1 1193.3 L183.1 1216.0 L184.3 1222.9 L185.4 1218.3 L186.5 1218.3 L187.6 1218.3 L188.8 1211.5 L189.9 1206.9 L191.0 1188.7 L192.2 1175.1 L193.3 1172.8 L194.4 1202.4 L195.5 1200.1 L196.6 1195.6 L197.7 1184.2 L198.8 1184.2 L199.9 1175.1 L201.1 1184.2 L202.2 1168.2 L203.3 1186.5 L204.4 1156.9 L205.6 1154.6 L206.7 1147.8 L207.8 1159.1 L209.0 1161.4 L210.0 1179.6 L211.1 1186.5 L212.2 1193.3 L213.4 1193.3 L214.5 1193.3 L215.6 1209.2 L216.8 1191.0 L217.9 1179.6 L219.0 1170.5 L220.1 1166.0 L221.2 1184.2 L222.4 1200.1 L223.4 1195.6 L224.5 1161.4 L225.6 1090.9 L226.8 1159.1 L227.9 1197.8 L229.0 1188.7 L230.2 1188.7 L231.3 1179.6 L232.4 1195.6 L233.5 1211.5 L234.7 1218.3 L235.8 1204.7 L236.9 1206.9 L238.0 1218.3 L239.1 1204.7 L240.2 1225.2 L241.3 1218.3 L242.5 1218.3 L243.6 1225.2 L244.7 1232.0 L245.9 1225.2 L247.0 1243.4 L248.1 1243.4 L249.3 1273.0 L250.3 1245.6 L251.4 1245.6 L252.5 1250.2 L253.7 1243.4 L254.8 1245.6 L255.9 1236.5 L257.0 1232.0 L258.1 1234.3 L259.3 1229.7 L260.4 1225.2 L261.5 1213.8 L262.7 1232.0 L263.7 1234.3 L264.8 1238.8 L265.9 1250.2 L267.1 1257.0 L268.2 1236.5 L269.3 1245.6 L270.5 1243.4 L271.6 1241.1 L272.7 1245.6 L273.8 1247.9 L275.0 1232.0 L276.1 1232.0 L277.1 1229.7 L278.3 1234.3 L279.4 1250.2 L280.5 1259.3 L281.6 1243.4 L282.7 1263.8 L283.9 1270.7 L285.0 1263.8 L286.1 1263.8 L287.2 1254.7 L288.4 1259.3 L289.5 1254.7 L290.6 1252.5 L291.7 1227.4 L292.8 1225.2 L294.0 1229.7 L295.1 1227.4 L296.2 1227.4 L297.3 1218.3 L298.4 1227.4 L299.6 1220.6 L300.7 1225.2 L301.8 1236.5 L303.0 1238.8 L304.0 1238.8 L305.1 1236.5 L306.2 1234.3 L307.4 1238.8 L308.5 1204.7 L309.6 1211.5 L310.8 1202.4 L311.9 1188.7 L313.0 1184.2 L314.1 1200.1 L315.2 1195.6 L316.4 1209.2 L317.4 1206.9 L318.6 1191.0 L319.7 1204.7 L320.8 1204.7 L321.9 1200.1 L323.0 1197.8 L324.2 1216.0 L325.3 1227.4 L326.4 1236.5 L327.5 1236.5 L328.7 1232.0 L329.8 1232.0 L330.8 1243.4 L332.0 1250.2 L333.1 1259.3 L334.2 1277.5 L335.3 1266.1 L336.5 1275.2 L337.6 1266.1 L338.7 1263.8 L339.8 1250.2 L340.9 1254.7 L342.1 1257.0 L343.2 1218.3 L344.3 1222.9 L345.4 1222.9 L346.5 1232.0 L347.7 1232.0 L348.8 1220.6 L349.9 1216.0 L351.1 1216.0 L352.2 1218.3 L353.3 1236.5 L354.4 1229.7 L355.5 1250.2 L356.7 1277.5 L357.7 1286.6 L358.8 1259.3 L360.0 1232.0 L361.1 1266.1 L362.2 1277.5 L363.3 1298.0 L364.5 1318.5 L365.6 1277.5 L366.7 1279.8 L367.8 1288.9 L369.0 1288.9 L370.1 1273.0 L371.1 1259.3 L372.3 1263.8 L373.4 1273.0 L374.5 1270.7 L375.6 1273.0 L376.8 1279.8 L377.9 1320.8 L379.0 1293.4 L380.1 1284.3 L381.2 1325.3 L382.4 1263.8 L383.5 1291.2 L384.5 1291.2 L385.7 1382.2 L386.8 1298.0 L387.9 1309.4 L389.0 1313.9 L390.2 1320.8 L391.3 1311.6 L392.4 1295.7 L393.6 1291.2 L394.7 1286.6 L395.8 1300.3 L396.9 1288.9 L398.0 1298.0 L399.1 1284.3 L400.2 1293.4 L401.4 1293.4 L402.5 1288.9 L403.6 1293.4 L404.8 1282.1 L405.9 1288.9 L407.0 1293.4 L408.1 1295.7 L409.3 1291.2 L410.4 1279.8 L411.4 1268.4 L412.6 1293.4 L413.7 1300.3 L414.8 1298.0 L415.9 1298.0 L417.0 1311.6 L418.2 1300.3 L419.3 1291.2 L420.4 1288.9 L421.5 1307.1 L422.7 1302.5 L423.8 1288.9 L424.8 1295.7 L426.0 1284.3 L427.1 1286.6 L428.2 1288.9 L429.3 1286.6 L430.5 1300.3 L431.6 1300.3 L432.7 1307.1 L433.9 1304.8 L435.0 1284.3 L436.1 1273.0 L437.2 1284.3 L438.3 1302.5 L439.4 1288.9 L440.5 1293.4 L441.6 1282.1 L442.7 1298.0 L443.9 1288.9 L445.0 1284.3 L446.1 1273.0 L447.3 1279.8 L448.4 1263.8 L449.5 1270.7 L450.7 1261.6 L451.7 1263.8 L452.9 1259.3 L454.0 1259.3 L455.1 1255.9 L456.2 1266.1 L457.3 1263.8 L458.5 1286.6 L459.6 1302.5 L460.7 1302.5 L461.8 1243.4 L463.0 1288.9 L464.1 1282.1 L465.1 1282.1 L466.3 1286.6 L467.4 1295.7 L468.5 1307.1 L469.6 1311.6 L470.8 1309.4 L471.9 1327.6 L473.0 1341.2 L474.1 1341.2 L475.2 1277.5 L476.4 1323.0 L477.5 1336.7 L478.6 1329.9 L479.7 1339.0 L480.8 1311.6 L481.9 1327.6 L483.0 1325.3 L484.2 1336.7 L485.3 1329.9 L486.4 1323.0 L487.6 1325.3 L488.7 1320.8 L489.8 1313.9 L490.9 1307.1 L492.0 1313.9 L493.1 1327.6 L494.2 1323.0 L495.4 1332.1 L496.5 1323.0 L497.6 1332.1 L498.7 1329.9 L499.8 1323.0 L501.0 1334.4 L502.1 1345.8 L503.2 1332.1 L504.4 1332.1 L505.4 1334.4 L506.6 1354.9 L507.7 1332.1 L508.8 1323.0 L509.9 1332.1 L511.1 1334.4 L512.2 1332.1 L513.3 1339.0 L514.4 1339.0 L515.5 1339.0 L516.7 1343.5 L517.8 1343.5 L518.9 1339.0 L520.0 1336.7 L521.1 1329.9 L522.2 1334.4 L523.3 1345.8 L524.5 1348.1 L525.6 1343.5 L526.7 1343.5 L527.9 1339.0 L529.0 1339.0 L530.1 1316.2 L531.2 1316.2 L532.3 1313.9 L533.4 1320.8 L534.5 1327.6 L535.7 1329.9 L536.8 1327.6 L537.9 1329.9 L539.0 1339.0 L540.1 1343.5 L541.3 1341.2 L542.4 1352.6 L543.5 1339.0 L544.7 1343.5 L545.7 1350.3 L546.8 1366.3 L547.9 1373.1 L549.1 1375.4 L550.2 1375.4 L551.3 1377.7 L552.5 1389.0 L553.6 1379.9 L554.7 1375.4 L555.8 1384.5 L556.9 1361.7 L558.1 1375.4 L559.1 1382.2 L560.3 1370.8 L561.4 1373.1 L562.5 1373.1 L563.6 1366.3 L564.8 1366.3 L565.9 1382.2 L567.0 1379.9 L568.2 1382.2 L569.3 1389.0 L570.4 1375.4 L571.5 1373.1 L572.6 1364.0 L573.7 1370.8 L574.8 1382.2 L575.9 1382.2 L577.1 1357.2 L578.2 1329.9 L579.3 1325.3 L580.4 1407.2 L581.6 1391.3 L582.7 1382.2 L583.8 1345.8 L585.0 1352.6 L586.0 1350.3 L587.1 1352.6 L588.2 1336.7 L589.4 1339.0 L590.5 1359.4 L591.6 1361.7 L592.8 1354.9 L593.9 1354.9 L595.0 1354.9 L596.1 1359.4 L597.2 1359.4 L598.4 1357.2 L599.4 1364.0 L600.5 1364.0 L601.6 1352.6 L602.8 1357.2 L603.9 1341.2 L605.0 1348.1 L606.2 1366.3 L607.3 1364.0 L608.4 1361.7 L609.5 1361.7 L610.7 1370.8 L611.8 1370.8 L612.9 1373.1 L614.0 1364.0 L615.1 1364.0 L616.2 1352.6 L617.3 1364.0 L618.5 1366.3 L619.6 1379.9 L620.7 1382.2 L621.9 1391.3 L623.0 1327.6 L624.1 1400.4 L625.3 1407.2 L626.3 1402.7 L627.4 1414.1 L628.5 1405.0 L629.7 1418.6 L630.8 1434.6 L631.9 1423.2 L633.0 1423.2 L634.1 1414.1 L635.3 1405.0 L636.4 1400.4 L637.5 1389.0 L638.7 1389.0 L639.7 1389.0 L640.8 1393.6 L641.9 1398.1 L643.1 1393.6 L644.2 1407.2 L645.3 1402.7 L646.5 1402.7 L647.6 1402.7 L648.7 1395.9 L649.8 1400.4 L651.0 1400.4 L652.1 1391.3 L653.1 1384.5 L654.3 1389.0 L655.4 1393.6 L656.5 1398.1 L657.6 1400.4 L658.7 1407.2 L659.9 1405.0 L661.0 1407.2 L662.1 1414.1 L663.2 1402.7 L664.4 1400.4 L665.5 1391.3 L666.6 1393.6 L667.7 1407.2 L668.8 1307.1 L670.0 1359.4 L671.1 1384.5 L672.2 1398.1 L673.3 1377.7 L674.4 1359.4 L675.6 1339.0 L676.7 1339.0 L677.8 1343.5 L679.0 1359.4 L680.0 1350.3 L681.1 1329.9 L682.2 1298.0 L683.4 1332.1 L684.5 1348.1 L685.6 1373.1 L686.8 1350.3 L687.9 1361.7 L689.0 1350.3 L690.1 1350.3 L691.2 1345.8 L692.4 1352.6 L693.4 1354.9 L694.6 1339.0 L695.7 1325.3 L696.8 1327.6 L697.9 1329.9 L699.0 1327.6 L700.2 1332.1 L701.3 1334.4 L702.4 1334.4 L703.5 1323.0 L704.7 1316.2 L705.8 1311.6 L706.8 1325.3 L708.0 1327.6 L709.1 1327.6 L710.2 1320.8 L711.3 1318.5 L712.5 1320.8 L713.6 1329.9 L714.7 1329.9 L715.8 1325.3 L716.9 1307.1 L718.1 1302.5 L719.2 1302.5 L720.3 1291.2 L721.4 1286.6 L722.5 1284.3 L723.7 1277.5 L724.8 1298.0 L725.9 1302.5 L727.1 1298.0 L728.2 1284.3 L729.3 1263.8 L730.4 1211.5 L731.5 1341.2 L732.7 1352.6 L733.7 1350.3 L734.8 1339.0 L736.0 1332.1 L737.1 1329.9 L738.2 1334.4 L739.3 1332.1 L740.5 1329.9 L741.6 1341.2 L742.7 1343.5 L743.8 1339.0 L745.0 1323.0 L746.1 1318.5 L747.1 1316.2 L748.3 1316.2 L749.4 1316.2 L750.5 1316.2 L751.6 1313.9 L752.8 1320.8 L753.9 1316.2 L755.0 1320.8 L756.1 1318.5 L757.2 1311.6 L758.4 1309.4 L759.5 1304.8 L760.5 1316.2 L761.7 1311.6" fill="none" stroke="#E46726" stroke-width="2.845" stroke-linejoin="round" stroke-linecap="butt"/>
<line x1="154.10" x2="154.10" y1="1451.75" y2="1459.08" stroke="#333333" stroke-width="2.845"/>
<text x="154.10" y="1482.65" font-size="23.47" fill="#4D4D4D" text-anchor="middle">1970</text>
<line x1="288.37" x2="288.37" y1="1451.75" y2="1459.08" stroke="#333333" stroke-width="2.845"/>
<text x="288.37" y="1482.65" font-size="23.47" fill="#4D4D4D" text-anchor="middle">1980</text>
<line x1="422.67" x2="422.67" y1="1451.75" y2="1459.08" stroke="#333333" stroke-width="2.845"/>
<text x="422.67" y="1482.65" font-size="23.47" fill="#4D4D4D" text-anchor="middle">1990</text>
<line x1="556.94" x2="556.94" y1="1451.75" y2="1459.08" stroke="#333333" stroke-width="2.845"/>
<text x="556.94" y="1482.65" font-size="23.47" fill="#4D4D4D" text-anchor="middle">2000</text>
<line x1="691.25" x2="691.25" y1="1451.75" y2="1459.08" stroke="#333333" stroke-width="2.845"/>
<text x="691.25" y="1482.65" font-size="23.47" fill="#4D4D4D" text-anchor="middle">2010</text>
<line x1="81.07" x2="88.40" y1="1370.83" y2="1370.83" stroke="#333333" stroke-width="2.845"/>
<text x="75.20" y="1379.93" font-size="23.47" fill="#4D4D4D" text-anchor="end">5</text>
<line x1="81.07" x2="88.40" y1="1257.02" y2="1257.02" stroke="#333333" stroke-width="2.845"/>
<text x="75.20" y="1266.12" font-size="23.47" fill="#4D4D4D" text-anchor="end">10</text>
<line x1="81.07" x2="88.40" y1="1143.21" y2="1143.21" stroke="#333333" stroke-width="2.845"/>
<text x="75.20" y="1152.31" font-size="23.47" fill="#4D4D4D" text-anchor="end">15</text>
<text x="441.07" y="1515.60" font-size="29.33" fill="#000" text-anchor="middle">date</text>
<text x="35.40" y="1262.71" font-size="29.33" fill="#000" text-anchor="middle" transform="rotate(-90 35.40 1262.71)">psavert</text>
</svg>
</body></html>
